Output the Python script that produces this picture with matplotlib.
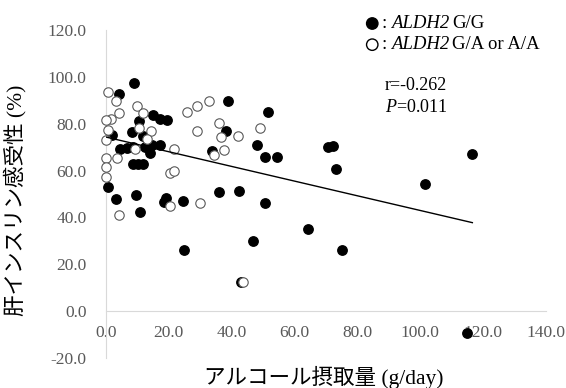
import numpy as np
import matplotlib
matplotlib.use('Agg')
import matplotlib.pyplot as plt
from matplotlib.offsetbox import TextArea, HPacker, VPacker, AnchoredOffsetbox, DrawingArea
from matplotlib.patches import Circle

# ALDH2 G/G (filled)
gg_x = [8.8, 4.2, 39.0, 51.6, 15.1, 17.2, 19.3, 10.5, 8.4, 38.2, 1.9, 11.9, 4.5, 6.6, 8.7,
        12.4, 14.6, 17.2, 14.0, 33.7, 48.0, 50.7, 54.6, 8.5, 10.2, 11.9, 0.5, 3.2, 9.7, 10.7,
        19.2, 18.5, 24.4, 36.0, 42.5, 50.7, 24.9, 46.9, 42.9, 70.8, 72.4, 73.3, 101.6, 116.7,
        64.4, 75.3, 114.9]
gg_y = [97.2, 92.5, 89.7, 84.8, 83.7, 82.0, 81.6, 81.3, 76.6, 76.9, 75.2, 74.9, 69.0, 69.5, 69.9,
        70.2, 70.9, 70.9, 67.3, 68.4, 70.9, 65.9, 65.9, 62.6, 62.6, 62.6, 53.2, 47.8, 49.6, 42.4,
        48.5, 46.5, 47.0, 50.9, 51.2, 46.0, 26.0, 30.0, 12.5, 69.9, 70.6, 60.6, 54.2, 67.2,
        34.9, 26.0, -9.3]

# ALDH2 G/A or A/A (open)
ga_x = [0.7, 3.2, 4.2, 9.8, 11.9, 1.5, 0.0, 0.7, 10.6, 14.2, 13.0, 0.0, 25.9, 28.9, 32.8,
        28.9, 36.0, 36.6, 42.0, 49.1, 21.8, 37.6, 34.5, 3.6, 0.0, 0.0, 0.0, 20.4, 21.8, 9.2,
        4.2, 20.4, 29.9, 43.7]
ga_y = [93.6, 89.8, 84.4, 87.5, 84.4, 81.9, 81.6, 77.3, 78.3, 77.0, 73.6, 73.0, 84.8, 87.7, 89.7,
        77.0, 80.1, 74.2, 74.7, 78.3, 69.3, 68.7, 66.6, 65.2, 65.2, 61.6, 57.2, 59.1, 59.8, 69.0,
        41.0, 45.0, 46.2, 12.5]

# regression line
fit_intercept = 74.3
fit_slope = -0.313

x_ticks = [0, 20, 40, 60, 80, 100, 120, 140]
y_ticks = [-20, 0, 20, 40, 60, 80, 100, 120]

plt.rcParams['font.family'] = ['Liberation Serif', 'Noto Sans CJK JP']
plt.rcParams['mathtext.fontset'] = 'custom'
plt.rcParams['mathtext.rm'] = 'Liberation Serif'
plt.rcParams['mathtext.it'] = 'Liberation Serif:italic'

fig = plt.figure(figsize=(5.66, 3.88), dpi=100)
ax = fig.add_axes([106 / 566, 30 / 388, 439.5 / 566, 328 / 388])

ax.scatter(gg_x, gg_y, s=46, color='black', zorder=3, clip_on=False)
ax.scatter(ga_x, ga_y, s=46, facecolor='white', edgecolor='#595959', linewidth=0.8,
           zorder=4, clip_on=False)

fit_x = np.array([0, max(gg_x + ga_x)])
ax.plot(fit_x, fit_intercept + fit_slope * fit_x, color='black', linewidth=1.0, zorder=5)

ax.set_xlim(0, 140)
ax.set_ylim(-20, 120)
ax.set_xticks(x_ticks)
ax.set_yticks(y_ticks)
ax.set_xticklabels([f'{v:.1f}' for v in x_ticks])
ax.set_yticklabels([f'{v:.1f}' for v in y_ticks])
ax.tick_params(length=0, labelsize=12.5, labelcolor='#595959')
ax.tick_params(axis='x', pad=10)
ax.tick_params(axis='y', pad=14)

for side in ['top', 'right']:
    ax.spines[side].set_visible(False)
ax.spines['bottom'].set_position(('data', 0))
ax.spines['left'].set_color('#d9d9d9')
ax.spines['bottom'].set_color('#d9d9d9')

fig.text(15 / 566, 1 - 200 / 388, '肝インスリン感受性 (%)', rotation=90,
         ha='center', va='center', fontsize=15.5)
fig.text(324 / 566, 1 - 377 / 388, 'アルコール摂取量 (g/day)',
         ha='center', va='center', fontsize=15.5)

fig.text(385 / 566, 1 - 85 / 388, 'r=-0.262', ha='left', va='center', fontsize=13)
fig.text(385 / 566, 1 - 108 / 388, r'$\mathit{P}$=0.011', ha='left', va='center', fontsize=13)


# legend drawn by hand so that "ALDH2" (with its 2) is italic
def legend_row(filled, genotype):
    da = DrawingArea(9, 9)
    da.add_artist(Circle((4.5, 4.5), 4.1, facecolor='black' if filled else 'white',
                         edgecolor='black', linewidth=1.0))
    parts = [da,
             TextArea(':', textprops=dict(fontsize=13.5)),
             TextArea('ALDH2', textprops=dict(fontsize=13.5, style='italic')),
             TextArea(genotype, textprops=dict(fontsize=13.5))]
    return HPacker(children=parts, pad=0, sep=2.5, align='center')


legend_box = VPacker(children=[legend_row(True, 'G/G'), legend_row(False, 'G/A or A/A')],
                     pad=0, sep=3, align='left')
anchored = AnchoredOffsetbox(loc='upper left', child=legend_box, pad=0, borderpad=0,
                             frameon=False, bbox_to_anchor=(366 / 566, 1 - 15 / 388),
                             bbox_transform=fig.transFigure)
fig.add_artist(anchored)

fig.savefig('out.png', dpi=100)
